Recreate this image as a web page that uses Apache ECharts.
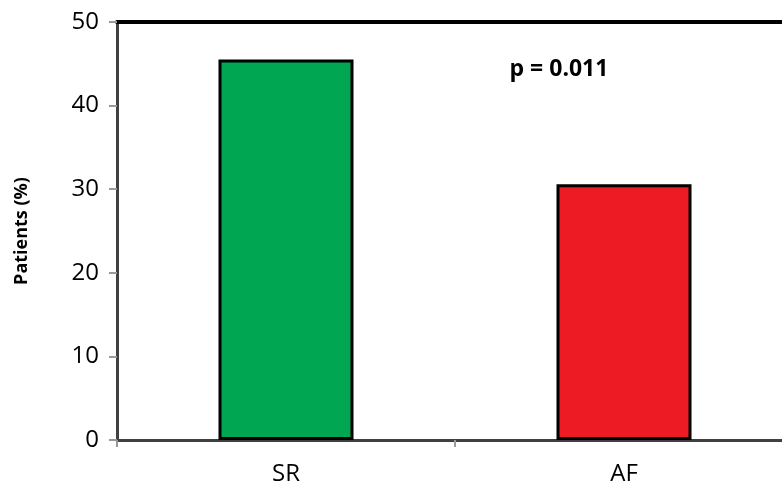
<!DOCTYPE html>
<html><head><meta charset="utf-8">
<script src="https://cdn.jsdelivr.net/npm/echarts@6/dist/echarts.min.js"></script>
<style>html,body{margin:0;padding:0;background:#fff;overflow:hidden;width:782px;height:487px}#c{width:810px;height:487px}</style>
</head><body><div id="c"></div>
<script>
const categories = ['SR', 'AF'];
const values = [45.5, 30.6];
const colors = ['#00a651', '#ed1c24'];
const yTicks = [0, 10, 20, 30, 40, 50];
const annotation = 'p = 0.011';
const yName = 'Patients (%)';

const chart = echarts.init(document.getElementById('c'));
const font = '"Open Sans", "Noto Sans", sans-serif';
chart.setOption({
  animation: false,
  grid: { left: 117, top: 22, width: 676, height: 418, containLabel: false },
  xAxis: [{
    type: 'category', data: categories,
    axisLine: { lineStyle: { color: '#404040', width: 3 } },
    axisTick: { show: true, length: 7, lineStyle: { color: '#999', width: 2 } },
    axisLabel: { color: '#000', fontSize: 24, fontFamily: font, margin: 22 }
  }, {
    type: 'category', data: categories, position: 'top',
    axisLine: { show: true, lineStyle: { color: '#000', width: 4 } },
    axisTick: { show: false }, axisLabel: { show: false }
  }],
  yAxis: {
    type: 'value', min: yTicks[0], max: yTicks[yTicks.length - 1], interval: 10,
    name: yName, nameLocation: 'middle', nameGap: 86, nameRotate: 90,
    nameTextStyle: { color: '#000', fontSize: 18, fontWeight: 'bold', fontFamily: font },
    axisLine: { show: true, lineStyle: { color: '#404040', width: 3 } },
    axisTick: { show: true, length: 8, lineStyle: { color: '#999', width: 2 } },
    axisLabel: { color: '#000', fontSize: 24, fontFamily: font, margin: 18 },
    splitLine: { show: false }
  },
  series: [{
    type: 'bar', barWidth: 135,
    data: values.map((v, i) => ({ value: v, itemStyle: { color: colors[i] } })),
    itemStyle: { borderColor: '#000', borderWidth: 3 },
    markPoint: {
      symbol: 'rect', symbolSize: 0,
      label: { show: true, formatter: annotation, color: '#000', fontSize: 23, fontWeight: 'bold', fontFamily: font, offset: [-65, 0] },
      data: [{ coord: [1, 44.3] }]
    }
  }]
});
</script></body></html>
